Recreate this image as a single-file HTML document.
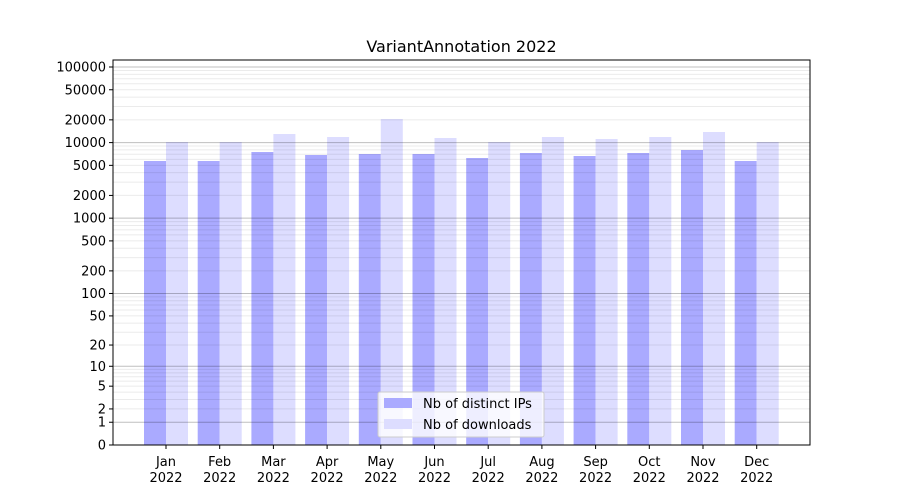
<!DOCTYPE html>
<html><head><meta charset="utf-8"><style>
body{margin:0;background:#fff}
svg{display:block;font-family:"DejaVu Sans","Liberation Sans",sans-serif}
</style></head><body>
<svg id="s" width="900" height="500" xmlns="http://www.w3.org/2000/svg">
<rect width="900" height="500" fill="#fff"/>
<g id="bars"></g>
<g id="grid"></g>
<rect x="113" y="60" width="697" height="385" fill="none" stroke="#000" stroke-width="1"/>
<g id="ticks" font-size="13"></g>
<text x="461.5" y="52" font-size="16" text-anchor="middle">VariantAnnotation 2022</text>
<g>
<rect x="378" y="392" width="166" height="45" fill="#fff" fill-opacity="0.8" stroke="#ccc" rx="2"/>
<rect x="384" y="398" width="28" height="10" fill="#aaaaff"/>
<text x="423" y="408" font-size="13">Nb of distinct IPs</text>
<rect x="384" y="419" width="28" height="10" fill="#ddddff"/>
<text x="423" y="429" font-size="13">Nb of downloads</text>
</g>
</svg>
<script>
var NS="http://www.w3.org/2000/svg";
function el(p,t,a,txt){var e=document.createElementNS(NS,t);for(var k in a)e.setAttribute(k,a[k]);if(txt!=null)e.textContent=txt;p.appendChild(e);return e;}
function Y(v){return 445-Math.log10(v+1)*75.6;}
var g=document.getElementById('grid');
for(var d=1;d<=100000;d*=10){for(var m=1;m<10;m++){var v=d*m;var y=Y(v);if(y<60)continue;
el(g,'line',{x1:113,x2:810,y1:y,y2:y,stroke:m==1?'rgba(0,0,0,0.25)':'rgba(0,0,0,0.08)','stroke-width':1});}}
var b=document.getElementById('bars');
var ip=[161,161,152,155,154,154,158,153,156,153,150,161];
var dl=[142,142,134,137,119,138,142,137,139,137,132,142];
var mon=['Jan','Feb','Mar','Apr','May','Jun','Jul','Aug','Sep','Oct','Nov','Dec'];
var t=document.getElementById('ticks');
for(var i=0;i<12;i++){var c=166+i*53.7;
el(b,'rect',{x:c-22,y:ip[i],width:22,height:445-ip[i],fill:'#aaaaff'});
el(b,'rect',{x:c,y:dl[i],width:22,height:445-dl[i],fill:'#ddddff'});
el(t,'line',{x1:c,x2:c,y1:445,y2:449,stroke:'#000'});
el(t,'text',{x:c,y:466,'text-anchor':'middle'},mon[i]);
el(t,'text',{x:c,y:482,'text-anchor':'middle'},'2022');}
[0,1,2,5,10,20,50,100,200,500,1000,2000,5000,10000,20000,50000,100000].forEach(function(v){var y=Y(v);
el(t,'line',{x1:109,x2:113,y1:y,y2:y,stroke:'#000'});
el(t,'text',{x:106,y:y+4.5,'text-anchor':'end'},String(v));});
</script>
</body></html>
